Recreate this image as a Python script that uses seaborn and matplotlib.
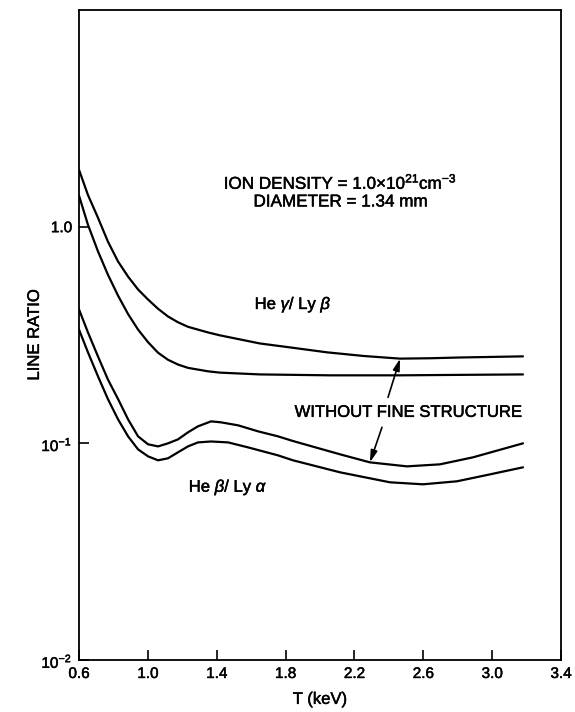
import matplotlib
matplotlib.use("Agg")
import matplotlib.pyplot as plt
import matplotlib.patheffects as pe
import seaborn as sns
import pandas as pd

# ---- data ----
# He gamma / Ly beta (upper, with fine structure)
x_a = [0.600, 0.652, 0.710, 0.768, 0.827, 0.885, 0.943, 1.001, 1.059, 1.117, 1.175, 1.233,
       1.349, 1.419, 1.651, 1.843, 2.041, 2.254, 2.465, 2.640, 2.813, 3.179]
y_a = [1.83, 1.40, 1.10, 0.853, 0.690, 0.588, 0.513, 0.461, 0.418, 0.385, 0.362, 0.345,
       0.325, 0.315, 0.289, 0.276, 0.263, 0.253, 0.246, 0.247, 0.249, 0.252]

# He gamma / Ly beta (lower, without fine structure)
x_b = [0.600, 0.652, 0.710, 0.768, 0.827, 0.885, 0.943, 1.001, 1.059, 1.117, 1.175, 1.233,
       1.349, 1.419, 1.651, 2.058, 2.465, 2.813, 3.179]
y_b = [1.39, 1.02, 0.77, 0.60, 0.48, 0.395, 0.335, 0.293, 0.262, 0.243, 0.231, 0.223,
       0.215, 0.212, 0.208, 0.206, 0.206, 0.207, 0.208]

# He beta / Ly alpha (upper, without fine structure)
x_c = [0.600, 0.652, 0.710, 0.768, 0.827, 0.885, 0.943, 1.001, 1.059, 1.117, 1.175, 1.233,
       1.291, 1.367, 1.425, 1.524, 1.640, 1.756, 1.843, 2.116, 2.290, 2.505, 2.697, 2.889, 3.179]
y_c = [0.415, 0.325, 0.252, 0.197, 0.160, 0.129, 0.1077, 0.0990, 0.0968, 0.100, 0.1043, 0.1124,
       0.1198, 0.1263, 0.1250, 0.1211, 0.1136, 0.1077, 0.1025, 0.0890, 0.0817, 0.0783, 0.0800,
       0.0862, 0.100]

# He beta / Ly alpha (lower, with fine structure)
x_d = [0.600, 0.652, 0.710, 0.768, 0.827, 0.885, 0.943, 1.001, 1.059, 1.117, 1.175, 1.233,
       1.291, 1.367, 1.466, 1.582, 1.756, 1.843, 2.116, 2.406, 2.598, 2.795, 2.987, 3.179]
y_d = [0.335, 0.263, 0.204, 0.160, 0.129, 0.1077, 0.0938, 0.0871, 0.0835, 0.0853, 0.0909, 0.0968,
       0.101, 0.102, 0.101, 0.0958, 0.0880, 0.0835, 0.0735, 0.0661, 0.0647, 0.0668, 0.0719, 0.0775]

x_ticks = [0.6, 1.0, 1.4, 1.8, 2.2, 2.6, 3.0, 3.4]
x_tick_labels = ["0.6", "1.0", "1.4", "1.8", "2.2", "2.6", "3.0", "3.4"]
y_ticks = [0.01, 0.1, 1.0]
y_tick_labels = ["10$^{-2}$", "10$^{-1}$", "1.0"]

frames = []
for name, xs, ys in [("A", x_a, y_a), ("B", x_b, y_b), ("C", x_c, y_c), ("D", x_d, y_d)]:
    frames.append(pd.DataFrame({"T": xs, "ratio": ys, "curve": name}))
df = pd.concat(frames, ignore_index=True)

sns.set_style("ticks")
plt.rcParams['font.family'] = ['Liberation Sans', 'DejaVu Sans']
plt.rcParams['mathtext.fontset'] = 'custom'
plt.rcParams['mathtext.rm'] = 'Liberation Sans'
plt.rcParams['mathtext.it'] = 'Liberation Sans:italic'
plt.rcParams['mathtext.bf'] = 'Liberation Sans:bold'
plt.rcParams['text.color'] = 'black'
plt.rcParams['axes.labelcolor'] = 'black'

fig = plt.figure(figsize=(5.75, 7.12), dpi=100)
ax = fig.add_axes([0.1374, 0.073, 0.8383, 0.913])

sns.lineplot(data=df, x="T", y="ratio", hue="curve", units="curve", estimator=None,
             palette=["black"] * 4, legend=False, linewidth=1.6, sort=False, ax=ax)

ax.set_yscale("log")
ax.set_xlim(0.6, 3.4)
ax.set_ylim(0.01, 10)
ax.set_xticks(x_ticks)
ax.set_xticklabels(x_tick_labels)
ax.set_yticks(y_ticks)
ax.set_yticklabels(y_tick_labels)
ax.minorticks_off()
ax.tick_params(direction="in", length=7, width=1.2, labelsize=11, pad=5, colors="black")

thick = [pe.withStroke(linewidth=0.35, foreground="black")]
for lab in ax.get_xticklabels() + ax.get_yticklabels():
    lab.set_path_effects(thick)

for s in ax.spines.values():
    s.set_linewidth(1.3)
    s.set_color("black")
    s.set_visible(True)

ax.set_xlabel("T (keV)", fontsize=12, path_effects=thick)
ax.set_ylabel("LINE RATIO", fontsize=12, path_effects=thick)
ax.xaxis.set_label_coords(0.5, -0.049)
ax.yaxis.set_label_coords(-0.077, 0.5)

tkw = dict(ha="center", va="center", path_effects=thick)
ax.text(2.12, 1.61, "ION DENSITY = 1.0×10$^{21}$cm$^{-3}$", fontsize=12.3, **tkw)
ax.text(2.12, 1.30, "DIAMETER = 1.34 mm", fontsize=12.3, **tkw)
ax.text(1.843, 0.437, "He $\\gamma$/ Ly $\\beta$", fontsize=12, **tkw)
ax.text(1.466, 0.0627, "He $\\beta$/ Ly $\\alpha$", fontsize=12, **tkw)
ax.text(2.511, 0.139, "WITHOUT FINE STRUCTURE", fontsize=12, **tkw)

arrow_kw = dict(arrowstyle="-|>,head_length=0.7,head_width=0.2", color="black", lw=1.2, shrinkA=0, shrinkB=0)
ax.annotate("", xy=(2.465, 0.246), xytext=(2.395, 0.163), arrowprops=arrow_kw)
ax.annotate("", xy=(2.290, 0.0817), xytext=(2.360, 0.1186), arrowprops=arrow_kw)

fig.savefig("out.png", dpi=100)
